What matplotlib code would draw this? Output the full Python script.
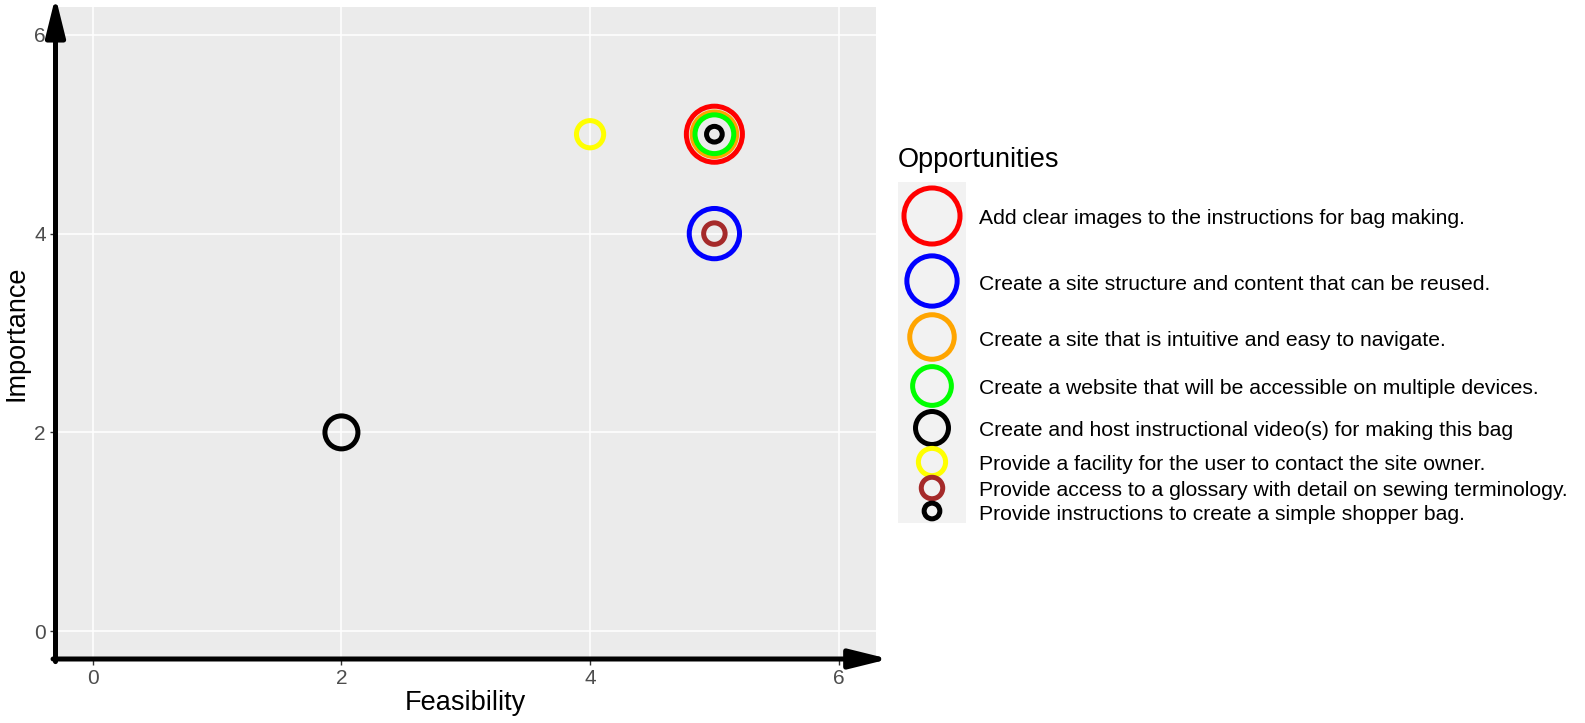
import matplotlib
matplotlib.use("Agg")
import matplotlib.pyplot as plt
from matplotlib.patches import Rectangle

plt.rcParams['font.family'] = ['Liberation Sans', 'DejaVu Sans']

opportunities = [
    "Add clear images to the instructions for bag making.",
    "Create a site structure and content that can be reused.",
    "Create a site that is intuitive and easy to navigate.",
    "Create a website that will be accessible on multiple devices.",
    "Create and host instructional video(s) for making this bag",
    "Provide a facility for the user to contact the site owner.",
    "Provide access to a glossary with detail on sewing terminology.",
    "Provide instructions to create a simple shopper bag.",
]
feasibility = [5, 5, 5, 5, 2, 4, 5, 5]
importance = [5, 4, 5, 5, 2, 5, 4, 5]
size_rank = [8, 7, 6, 5, 4, 3, 2, 1]
colors = ["#FF0000", "#0000FF", "#FFA500", "#00FF00", "#000000", "#FFFF00", "#A52A2A", "#000000"]
ticks = [0, 2, 4, 6]

W, H, DPI = 1585, 723, 100
fig = plt.figure(figsize=(W / DPI, H / DPI), dpi=DPI)

# size scale: diameter linear in rank (points)
LW = 3.6
def diam(r):
    return 11.3 + (r - 1) * 4.15

L, R, T, B = 55.5, 876, 7, 659
ax = fig.add_axes([L / W, 1 - B / H, (R - L) / W, (B - T) / H])
ax.set_facecolor("#EBEBEB")
ax.set_xlim(-0.30, 6.30)
ax.set_ylim(-0.28, 6.28)
ax.set_xticks(ticks)
ax.set_yticks(ticks)
ax.grid(True, color="white", lw=1.1)
ax.set_axisbelow(True)
for s in ax.spines.values():
    s.set_visible(False)
ax.tick_params(axis='both', length=4, width=1, color="#333333",
               labelcolor="#4d4d4d", labelsize=15)
ax.tick_params(axis='x', pad=3.5)
ax.tick_params(axis='y', pad=3)

for x, y, r, c in zip(feasibility, importance, size_rank, colors):
    ax.scatter([x], [y], s=diam(r) ** 2, facecolors="none", edgecolors=c,
               linewidths=LW, zorder=3)

ax.set_xlabel("Feasibility", fontsize=19.5, labelpad=1)
ax.set_ylabel("Importance", fontsize=19.5, labelpad=3)

# axis lines with arrows
arrow = dict(arrowstyle='-|>,head_length=1.7,head_width=0.42', lw=LW, color='black',
             shrinkA=0, shrinkB=0, mutation_scale=14)
ax.annotate('', xy=(0, 1.016), xytext=(0, -0.004), xycoords='axes fraction',
            textcoords='axes fraction', arrowprops=arrow, annotation_clip=False)
ax.annotate('', xy=(1.016, 0), xytext=(-0.003, 0), xycoords='axes fraction',
            textcoords='axes fraction', arrowprops=arrow, annotation_clip=False)

# legend
lg = fig.add_axes([0, 0, 1, 1], zorder=5)
lg.set_xlim(0, W)
lg.set_ylim(H, 0)
lg.axis('off')
lg.text(898, 160, "Opportunities", fontsize=19.5, va='center', ha='left')
lg.add_patch(Rectangle((898, 182), 68, 341, facecolor="#F2F2F2", edgecolor="none"))
row_y = [216, 281, 337, 386, 428, 462, 488, 511]
for yy, lab, r, c in zip(row_y, opportunities, size_rank, colors):
    lg.scatter([932], [yy], s=diam(r) ** 2, facecolors="none", edgecolors=c,
               linewidths=LW, zorder=3)
    lg.text(979, yy + 3, lab, fontsize=15.2, va='center', ha='left')

fig.savefig("out.png", dpi=DPI)
